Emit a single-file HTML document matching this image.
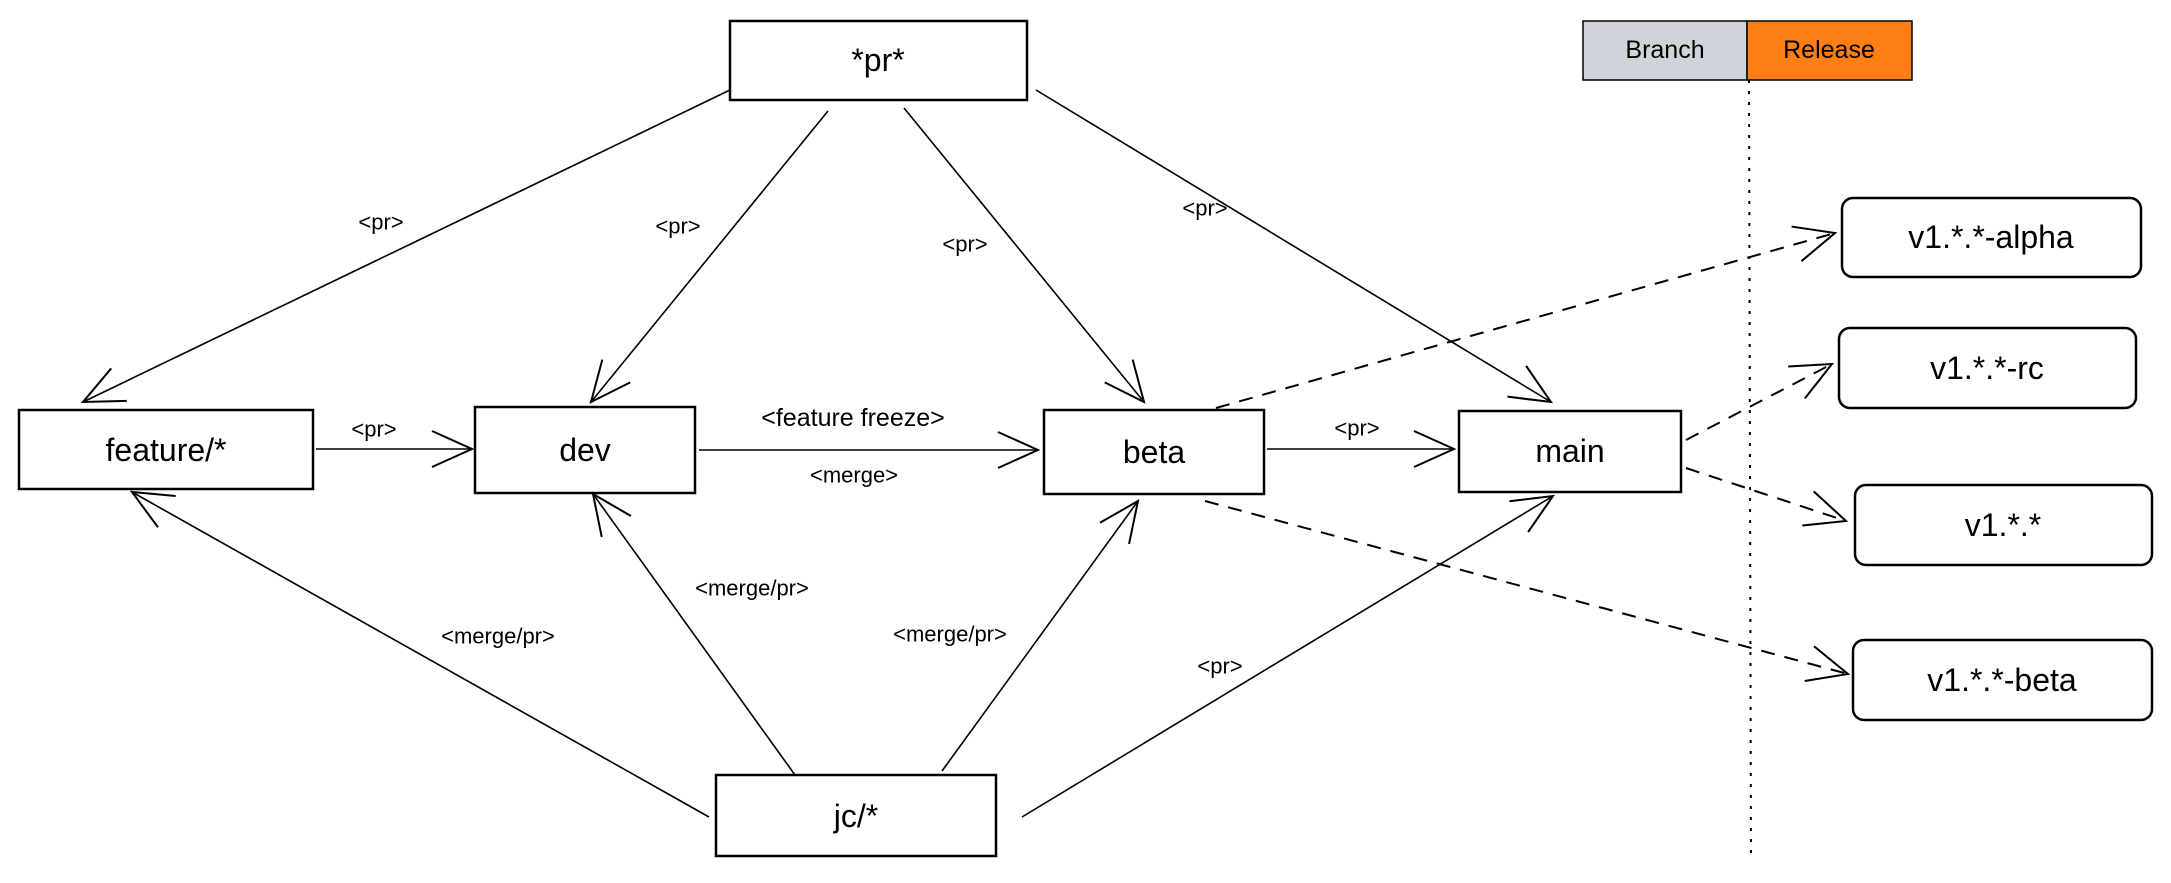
<!DOCTYPE html>
<html><head><meta charset="utf-8"><style>
html,body{margin:0;padding:0;background:#fff;}
svg{display:block;}
text{font-family:"Liberation Sans",sans-serif;fill:#000;text-anchor:middle;dominant-baseline:central;}
.n{font-size:32px;}
.l{font-size:22px;}
</style></head><body>
<svg width="2171" height="883" viewBox="0 0 2171 883" xmlns="http://www.w3.org/2000/svg">
<defs>
<marker id="a" markerUnits="userSpaceOnUse" markerWidth="48" markerHeight="48" refX="44" refY="24" orient="auto">
<path d="M4,6 L44,24 L4,42" fill="none" stroke="#000" stroke-width="2"/>
</marker>
</defs>
<g fill="none" stroke="#000" stroke-width="2.5">
<rect x="730" y="21" width="297" height="79"/>
<rect x="19" y="410" width="294" height="79"/>
<rect x="475" y="407" width="220" height="86"/>
<rect x="1044" y="410" width="220" height="84"/>
<rect x="1459" y="411" width="222" height="81"/>
<rect x="716" y="775" width="280" height="81"/>
<rect x="1842" y="198" width="299" height="79" rx="11"/>
<rect x="1839" y="328" width="297" height="80" rx="11"/>
<rect x="1855" y="485" width="297" height="80" rx="11"/>
<rect x="1853" y="640" width="299" height="80" rx="11"/>
</g>
<rect x="1583" y="21" width="164" height="59" fill="#ced4da" stroke="#000" stroke-width="1.5"/>
<rect x="1747" y="21" width="165" height="59" fill="#fd7e14" stroke="#000" stroke-width="1.5"/>
<line x1="1749" y1="80" x2="1751" y2="860" stroke="#000" stroke-width="2" stroke-dasharray="3,8"/>
<g stroke="#000" stroke-width="1.6" fill="none" marker-end="url(#a)">
<line x1="730" y1="90" x2="83" y2="402"/>
<line x1="828" y1="111" x2="591" y2="402"/>
<line x1="904" y1="108" x2="1144" y2="402"/>
<line x1="1036" y1="90" x2="1551" y2="402"/>
<line x1="316" y1="449" x2="472" y2="449"/>
<line x1="699" y1="450" x2="1038" y2="450"/>
<line x1="1267" y1="449" x2="1454" y2="449"/>
<line x1="709" y1="817" x2="132" y2="492"/>
<line x1="795" y1="775" x2="593" y2="494"/>
<line x1="942" y1="771" x2="1138" y2="501"/>
<line x1="1022" y1="817" x2="1553" y2="496"/>
</g>
<g stroke="#000" stroke-width="2" fill="none" stroke-dasharray="14,10" marker-end="url(#a)">
<line x1="1216" y1="408" x2="1835" y2="233"/>
<line x1="1686" y1="440" x2="1832" y2="364"/>
<line x1="1686" y1="468" x2="1846" y2="521"/>
<line x1="1205" y1="501" x2="1848" y2="674"/>
</g>
<text class="n" x="878" y="60">*pr*</text>
<text class="n" x="166" y="450">feature/*</text>
<text class="n" x="585" y="450">dev</text>
<text class="n" x="1154" y="452">beta</text>
<text class="n" x="1570" y="451">main</text>
<text class="n" x="856" y="816">jc/*</text>
<text class="l" x="1665" y="50" style="font-size:25px">Branch</text>
<text class="l" x="1829" y="50" style="font-size:25px">Release</text>
<text class="n" x="1991" y="237">v1.*.*-alpha</text>
<text class="n" x="1987" y="368">v1.*.*-rc</text>
<text class="n" x="2003" y="525">v1.*.*</text>
<text class="n" x="2002" y="680">v1.*.*-beta</text>
<text class="l" x="381" y="222">&lt;pr&gt;</text>
<text class="l" x="678" y="226">&lt;pr&gt;</text>
<text class="l" x="965" y="244">&lt;pr&gt;</text>
<text class="l" x="1205" y="208">&lt;pr&gt;</text>
<text class="l" x="374" y="429">&lt;pr&gt;</text>
<text class="l" x="853" y="418" style="font-size:25px">&lt;feature freeze&gt;</text>
<text class="l" x="854" y="475">&lt;merge&gt;</text>
<text class="l" x="1357" y="428">&lt;pr&gt;</text>
<text class="l" x="498" y="636">&lt;merge/pr&gt;</text>
<text class="l" x="752" y="588">&lt;merge/pr&gt;</text>
<text class="l" x="950" y="634">&lt;merge/pr&gt;</text>
<text class="l" x="1220" y="666">&lt;pr&gt;</text>
</svg>
</body></html>
